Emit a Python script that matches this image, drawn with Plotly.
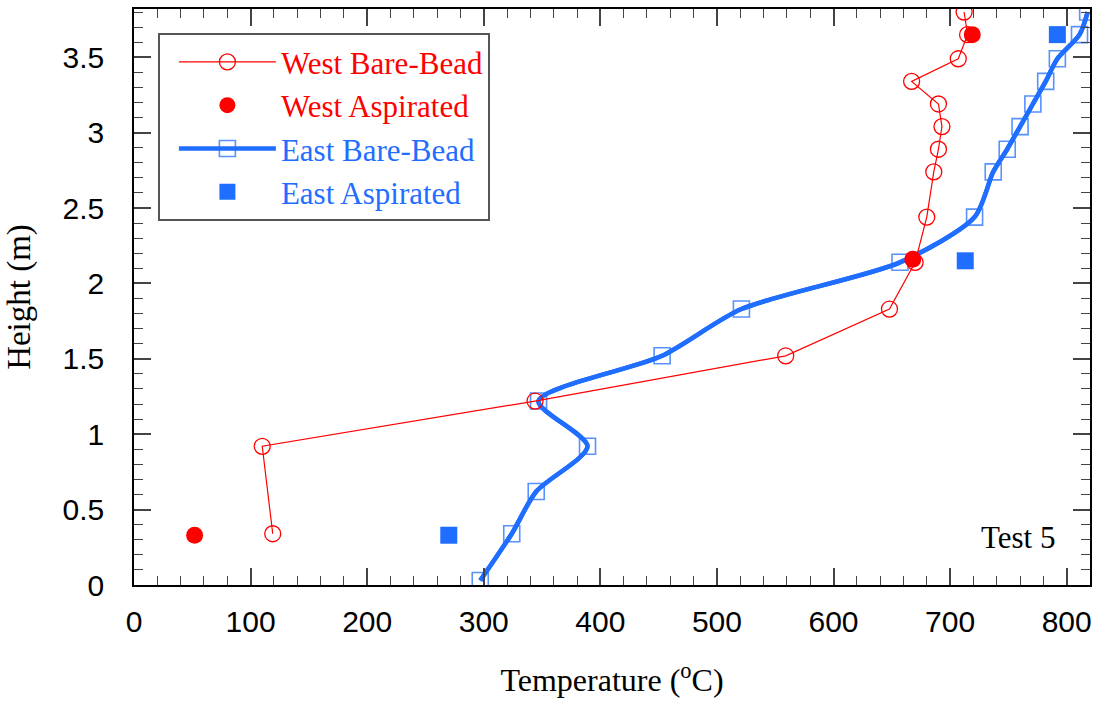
import plotly.graph_objects as go

# ---------------- data ----------------
west_bare_T = [119, 110, 344, 559, 648, 670, 680, 686, 690, 693, 690, 667, 707, 715, 712]
west_bare_H = [0.34, 0.92, 1.22, 1.52, 1.83, 2.14, 2.44, 2.74, 2.89, 3.04, 3.19, 3.34, 3.49, 3.65, 3.80]

west_asp_T = [52, 668, 719]
west_asp_H = [0.33, 2.16, 3.65]

east_bare_T = [297, 324, 345, 389, 347, 453, 521, 657, 721, 737, 749, 760, 771, 782, 792, 811, 818]
east_bare_H = [0.03, 0.34, 0.62, 0.92, 1.22, 1.52, 1.83, 2.14, 2.44, 2.74, 2.89, 3.04, 3.19, 3.34, 3.49, 3.65, 3.80]

east_asp_T = [270, 713, 792]
east_asp_H = [0.33, 2.15, 3.65]

x_ticks = [0, 100, 200, 300, 400, 500, 600, 700, 800]
y_ticks = [0, 0.5, 1, 1.5, 2, 2.5, 3, 3.5]
y_tick_text = ["0", "0.5", "1", "1.5", "2", "2.5", "3", "3.5"]

RED = "#FF0000"
BLUE = "#1F6EFF"
SERIF = "Liberation Serif, Times New Roman, serif"
SANS = "Liberation Sans, Arial, sans-serif"

fig = go.Figure()

# East bare-bead (legend entry: line + open square)
fig.add_trace(go.Scatter(
    x=east_bare_T, y=east_bare_H, mode="lines+markers",
    name=f"<span style='color:{BLUE}'>East Bare-Bead</span>",
    line=dict(color=BLUE, width=4.5, shape="spline", smoothing=0.75),
    marker=dict(symbol="square-open", size=16, color="rgba(31,110,255,0.75)",
                line=dict(width=1.6, color="rgba(31,110,255,0.75)")),
    legendrank=3,
))
# thick smooth line drawn above the squares
fig.add_trace(go.Scatter(
    x=east_bare_T, y=east_bare_H, mode="lines", showlegend=False, hoverinfo="skip",
    line=dict(color=BLUE, width=4.5, shape="spline", smoothing=0.75),
))
# East aspirated
fig.add_trace(go.Scatter(
    x=east_asp_T, y=east_asp_H, mode="markers",
    name=f"<span style='color:{BLUE}'>East Aspirated</span>",
    marker=dict(symbol="square", size=17, color=BLUE, line=dict(width=0)),
    legendrank=4,
))
# West bare-bead
fig.add_trace(go.Scatter(
    x=west_bare_T, y=west_bare_H, mode="lines+markers",
    name=f"<span style='color:{RED}'>West Bare-Bead</span>",
    line=dict(color=RED, width=1.2),
    marker=dict(symbol="circle-open", size=16, color=RED, line=dict(width=1.3, color=RED)),
    legendrank=1,
))
# West aspirated
fig.add_trace(go.Scatter(
    x=west_asp_T, y=west_asp_H, mode="markers",
    name=f"<span style='color:{RED}'>West Aspirated</span>",
    marker=dict(symbol="circle", size=17, color=RED, line=dict(width=0)),
    legendrank=2,
))

axis_common = dict(
    showgrid=False, zeroline=False,
    showline=True, linecolor="black", linewidth=1.5,
    ticks="inside", ticklen=17, tickwidth=1.5, tickcolor="#444",
    mirror="allticks",
    tickfont=dict(family=SANS, size=30, color="black"),
)

fig.update_xaxes(
    **axis_common,
    range=[0, 820], tickvals=x_ticks,
    minor=dict(dtick=20, tick0=0, ticks="inside", ticklen=9, tickwidth=1.3, tickcolor="#444"),
    ticklabelstandoff=9,
    title=dict(text="Temperature (<sup>o</sup>C)", font=dict(family=SERIF, size=32, color="black"),
               standoff=32),
)
fig.update_yaxes(
    **axis_common,
    range=[0, 3.82], tickvals=y_ticks, ticktext=y_tick_text,
    minor=dict(dtick=0.1, tick0=0, ticks="inside", ticklen=9, tickwidth=1.3, tickcolor="#444"),
    ticklabelstandoff=22,
    title=dict(text="Height (m)", font=dict(family=SERIF, size=33, color="black"), standoff=22),
)

fig.add_annotation(
    text="Test 5", xref="paper", yref="paper", x=0.965, y=0.082,
    xanchor="right", yanchor="middle", showarrow=False,
    font=dict(family=SERIF, size=31, color="black"),
)

fig.update_layout(
    width=1097, height=702,
    margin=dict(l=134, r=5, t=9, b=117),
    paper_bgcolor="white", plot_bgcolor="white",
    showlegend=True,
    legend=dict(
        x=0.025, y=0.958, xanchor="left", yanchor="top",
        bgcolor="white", bordercolor="#555", borderwidth=2,
        font=dict(family=SERIF, size=31),
        itemwidth=97, tracegroupgap=0, indentation=14,
    ),
)

fig.write_html("out.html")
